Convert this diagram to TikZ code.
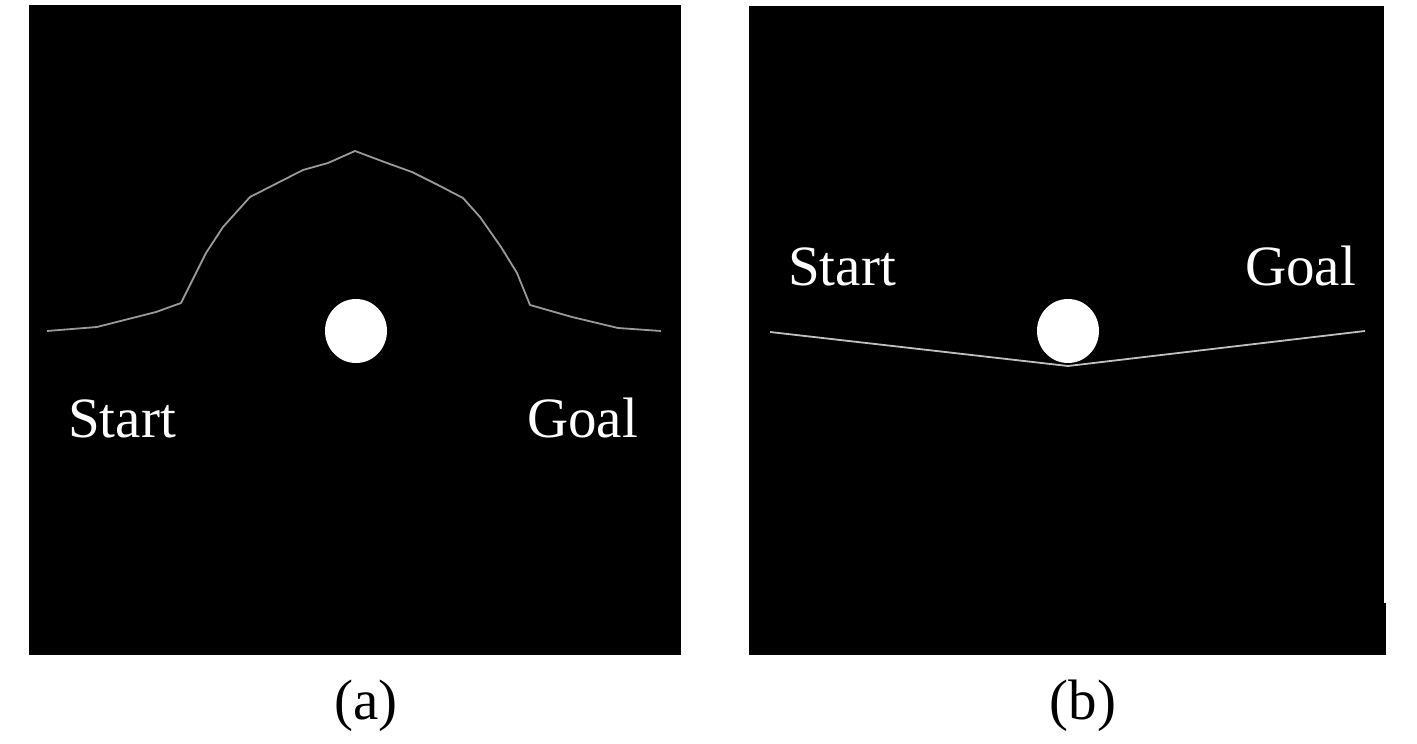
\documentclass[tikz,border=0pt]{standalone}
\usepackage{fontspec}
\setmainfont{Liberation Serif}
\begin{document}
\begin{tikzpicture}[x=1pt,y=-1pt,
  panel/.style={fill=black,draw=none},
  pathline/.style={draw=black!40,line width=1.8pt,line join=round},
  obstacle/.style={fill=white,draw=none},
  lbl/.style={text=white,font=\fontsize{57}{60}\selectfont,inner sep=0pt,anchor=base west},
  captext/.style={text=black,font=\fontsize{57}{60}\selectfont,inner sep=0pt,anchor=base}]
\useasboundingbox[fill=white] (0,0) rectangle (1417,744);
% panels
\fill[panel] (29,5) rectangle (681,655);
\fill[panel] (749,6) rectangle (1384,655);
\fill[panel] (1384,603) rectangle (1386,655);
% path (a)
\draw[pathline] (47,331) -- (97,327) -- (156,312) -- (181,303) -- (206,253) -- (223,227)
  -- (250,197) -- (303,170) -- (328,163) -- (355,151) -- (387,163) -- (412,172)
  -- (438,185) -- (463,198) -- (480,217) -- (501,247) -- (517,273) -- (530,305)
  -- (572,317) -- (618,328) -- (661,331);
\fill[obstacle] (356,331) ellipse [x radius=31, y radius=32];
% path (b)
\fill[obstacle] (1068,331) ellipse [x radius=31, y radius=32];
\draw[pathline,draw=black!25] (770,332) -- (1068,366) -- (1365,331);
% labels
\node[lbl] (starta) at (68,437) {Start};
\node[lbl] (goala) at (527,437) {Goal};
\node[lbl] (startb) at (788,285) {Start};
\node[lbl] (goalb) at (1245,285) {Goal};
\node[captext] (capa) at (366,719) {(a)};
\node[captext] (capb) at (1083,719) {(b)};
\end{tikzpicture}
\end{document}
